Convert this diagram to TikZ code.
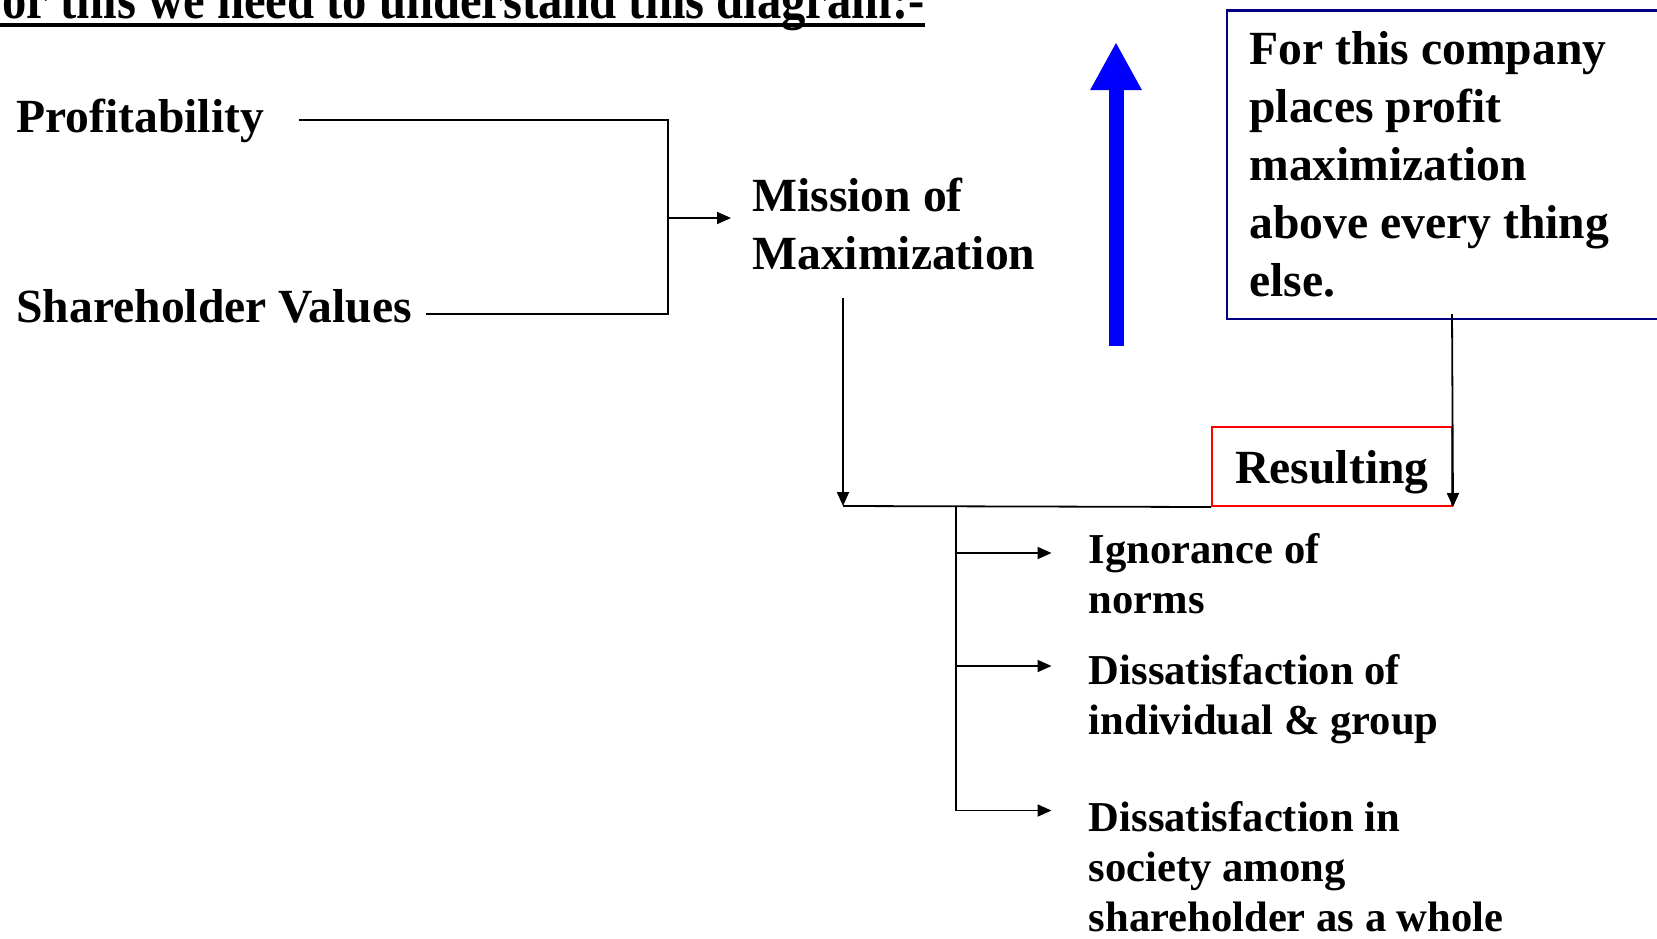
\documentclass[tikz,border=0pt]{standalone}
\usepackage{fontspec}
\setmainfont{Liberation Serif}
\usetikzlibrary{arrows.meta}

\definecolor{navy}{RGB}{0,0,128}

\tikzset{
  txt/.style={inner sep=0pt, anchor=base west, align=left,
    font=\bfseries\fontsize{23.8}{29}\selectfont},
  smalltxt/.style={txt, font=\bfseries\fontsize{21.3}{25}\selectfont},
  link/.style={line width=0.9pt},
}

\begin{document}
\begin{tikzpicture}[x=0.5pt, y=-0.5pt, >={Triangle[length=7pt,width=6pt]}]
    \useasboundingbox (0,0) rectangle (1657,938);

    % Heading, cut at the top
    \node[anchor=base east, inner sep=0pt, font=\bfseries\fontsize{24.3}{24}\selectfont] (title) at (925,18)
        {\scalebox{1}[1.15]{For this we need to understand this diagram:-}};
    \draw[line width=2.2pt] ([yshift=-3.5pt]title.base west) -- ([yshift=-3.5pt]title.base east);

    % Nodes (base = last line)
    \node[txt] (prof) at (16,132) {Profitability};
    \node[txt] (share) at (16,322) {Shareholder Values};
    \node[txt] (mission) at (752,269.5) {Mission of\\Maximization};
    \node[txt] (company) at (1249,296) {For this company\\places profit\\maximization\\above every thing\\else.};
    \node[draw=red, line width=1pt, minimum width=120pt, minimum height=39.5pt, text depth=0pt,
        font=\bfseries\fontsize{23.8}{29}\selectfont] (result) at (1332,466.5) {Resulting};
    \node[smalltxt] (norms) at (1088.5,613) {Ignorance of\\norms};
    \node[smalltxt] (group) at (1088.5,734.5) {Dissatisfaction of\\individual \& group};
    \node[smalltxt] (society) at (1088.5,931) {Dissatisfaction in\\society among\\shareholder as a whole};

    % Frame round the company text, open to the right
    \draw[navy, line width=1.2pt] (1227,10.5) rectangle (1720,319);

    % Big blue arrow
    \coordinate (upfoot) at (1116,345.5);
    \coordinate (uptip) at (1116,42);
    \draw[blue, line width=7.5pt, -{Triangle[length=24pt,width=24pt]}] (upfoot) -- (uptip);

    % Joints and ends
    \coordinate (brk) at (668,218);
    \coordinate (mfoot) at (843,298);
    \coordinate (corner) at (843,506);
    \coordinate (cfoot) at (1452,314);
    \coordinate (spine) at (956,506);
    \coordinate (spineend) at (956,810.5);
    \coordinate (tip1) at (1051.5,553);
    \coordinate (tip2) at (1051.5,666);
    \coordinate (tip3) at (1051.5,810.5);

    % Edges
    \draw[link] ([xshift=17.5pt]prof.east) -| (brk) |- ([shift={(7pt,4pt)}]share.base east);
    \draw[link, ->] (brk) -- ([xshift=-10.5pt]mission.west |- brk);
    \draw[link, ->] (mfoot) -- (corner);
    \draw[link] (corner) -- (result.south west);
    \draw[link, ->] (cfoot) -- (result.south east);
    \draw[link] (spine) -- (spineend);
    \draw[link, ->] (spine |- tip1) -- (tip1);
    \draw[link, ->] (spine |- tip2) -- (tip2);
    \draw[link, ->] (spineend) -- (tip3);
\end{tikzpicture}
\end{document}
